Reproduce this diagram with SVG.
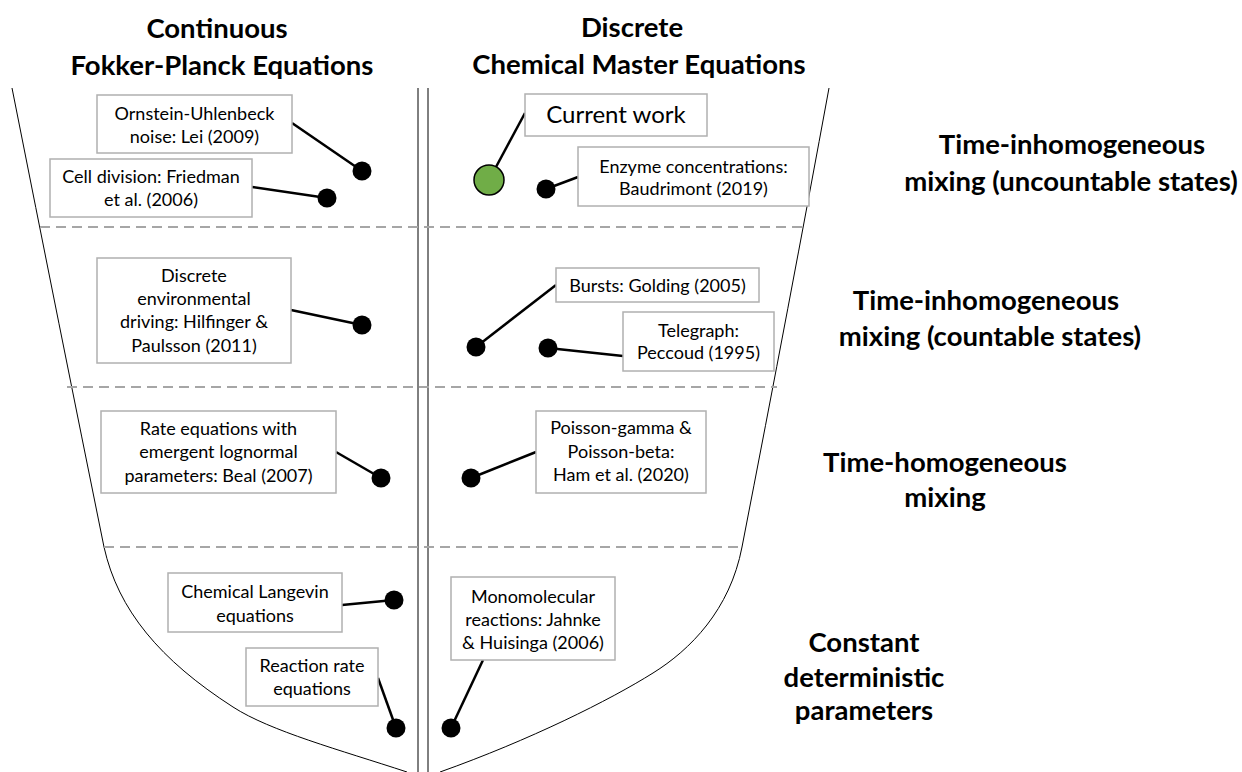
<svg xmlns="http://www.w3.org/2000/svg" width="1242" height="772" viewBox="0 0 1242 772">
<style>
.t{font-family:Lato,"Open Sans","Liberation Sans",sans-serif;fill:#000;text-anchor:middle}
.b{font-size:18px}
.h{font-size:27.5px;font-weight:bold}
.box{fill:#fff;stroke:#b0b0b0;stroke-width:1.5}
.dot{fill:#000}
.con{stroke:#000;stroke-width:2.5;fill:none}
.fun{stroke:#000;stroke-width:1;fill:none}
.sep{stroke:#a6a6a6;stroke-width:2;stroke-dasharray:10 6;fill:none}
</style>
<rect width="1242" height="772" fill="#fff"/>
<g id="funnel">
<path class="fun" d="M12,88 Q60,330 104,547 C118,610 160,660 233,707 C270,731 340,750 407,772"/>
<path class="fun" d="M829,88 Q790,300 742,547 C730,610 690,650 653,673 C610,700 530,740 440,772"/>
<line class="fun" x1="418" y1="88" x2="418" y2="772"/>
<line class="fun" x1="428" y1="88" x2="428" y2="772"/>
<line class="sep" x1="40" y1="227" x2="806" y2="227"/>
<line class="sep" x1="67" y1="387" x2="777" y2="387"/>
<line class="sep" x1="104" y1="547" x2="741" y2="547"/>
</g>
<g id="titles">
<text class="t h" x="217" y="38">Continuous</text>
<text class="t h" x="222" y="75">Fokker-Planck Equations</text>
<text class="t h" x="632" y="37">Discrete</text>
<text class="t h" x="639" y="74">Chemical Master Equations</text>
</g>
<g id="row-labels">
<text class="t h" x="1072" y="154">Time-inhomogeneous</text>
<text class="t h" x="1071" y="191">mixing (uncountable states)</text>
<text class="t h" x="986" y="310">Time-inhomogeneous</text>
<text class="t h" x="990" y="346">mixing (countable states)</text>
<text class="t h" x="945" y="472">Time-homogeneous</text>
<text class="t h" x="945" y="507">mixing</text>
<text class="t h" x="864" y="652">Constant</text>
<text class="t h" x="864" y="687">deterministic</text>
<text class="t h" x="864" y="720">parameters</text>
</g>
<g id="connectors">
<line class="con" x1="292" y1="123" x2="362" y2="171"/>
<line class="con" x1="252" y1="187" x2="327" y2="198"/>
<line class="con" x1="525" y1="113" x2="489" y2="180"/>
<line class="con" x1="578" y1="177" x2="546" y2="189"/>
<line class="con" x1="291" y1="310" x2="362" y2="325"/>
<line class="con" x1="336" y1="452" x2="381" y2="478"/>
<line class="con" x1="556" y1="285" x2="476" y2="347"/>
<line class="con" x1="623" y1="356" x2="548" y2="348"/>
<line class="con" x1="536" y1="452" x2="471" y2="478"/>
<line class="con" x1="342" y1="605" x2="394" y2="600"/>
<line class="con" x1="378" y1="678" x2="396" y2="728"/>
<line class="con" x1="483" y1="660" x2="451" y2="728"/>
</g>
<g id="n-ou">
<rect class="box" x="97" y="95" width="195" height="58"/>
<text class="t b" x="194.5" y="120">Ornstein-Uhlenbeck</text>
<text class="t b" x="194.5" y="143">noise: Lei (2009)</text>
<circle class="dot" cx="362" cy="171" r="9.5"/>
</g>
<g id="n-cell">
<rect class="box" x="50" y="159" width="202" height="58"/>
<text class="t b" x="151" y="183">Cell division: Friedman</text>
<text class="t b" x="151" y="206">et al. (2006)</text>
<circle class="dot" cx="327" cy="198" r="9.5"/>
</g>
<g id="n-current">
<rect class="box" x="525" y="94" width="182" height="42"/>
<text class="t" x="616" y="123" style="font-size:24px">Current work</text>
<circle cx="489" cy="180" r="15" fill="#70ad47" stroke="#000" stroke-width="1.5"/>
</g>
<g id="n-enzyme">
<rect class="box" x="578" y="147" width="231" height="59"/>
<text class="t b" x="693.5" y="173">Enzyme concentrations:</text>
<text class="t b" x="693.5" y="195">Baudrimont (2019)</text>
<circle class="dot" cx="546" cy="189" r="9.5"/>
</g>
<g id="n-discrete-env">
<rect class="box" x="97" y="258" width="194" height="105"/>
<text class="t b" x="194" y="282">Discrete</text>
<text class="t b" x="194" y="305">environmental</text>
<text class="t b" x="194" y="328">driving: Hilfinger &amp;</text>
<text class="t b" x="194" y="352">Paulsson (2011)</text>
<circle class="dot" cx="362" cy="325" r="9.5"/>
</g>
<g id="n-rate-lognormal">
<rect class="box" x="101" y="411" width="235" height="82"/>
<text class="t b" x="218.5" y="435">Rate equations with</text>
<text class="t b" x="218.5" y="458">emergent lognormal</text>
<text class="t b" x="218.5" y="482">parameters: Beal (2007)</text>
<circle class="dot" cx="381" cy="478" r="9.5"/>
</g>
<g id="n-bursts">
<rect class="box" x="556" y="268" width="203" height="34"/>
<text class="t b" x="657.5" y="292">Bursts: Golding (2005)</text>
<circle class="dot" cx="476" cy="347" r="9.5"/>
</g>
<g id="n-telegraph">
<rect class="box" x="623" y="312" width="151" height="59"/>
<text class="t b" x="698.5" y="337">Telegraph:</text>
<text class="t b" x="698.5" y="359">Peccoud (1995)</text>
<circle class="dot" cx="548" cy="348" r="9.5"/>
</g>
<g id="n-poisson">
<rect class="box" x="536" y="411" width="170" height="82"/>
<text class="t b" x="621" y="434">Poisson-gamma &amp;</text>
<text class="t b" x="621" y="458">Poisson-beta:</text>
<text class="t b" x="621" y="481">Ham et al. (2020)</text>
<circle class="dot" cx="471" cy="478" r="9.5"/>
</g>
<g id="n-langevin">
<rect class="box" x="168" y="573" width="174" height="59"/>
<text class="t b" x="255" y="598">Chemical Langevin</text>
<text class="t b" x="255" y="622">equations</text>
<circle class="dot" cx="394" cy="600" r="9.5"/>
</g>
<g id="n-rre">
<rect class="box" x="246" y="648" width="132" height="58"/>
<text class="t b" x="312" y="672">Reaction rate</text>
<text class="t b" x="312" y="695">equations</text>
<circle class="dot" cx="396" cy="728" r="9.5"/>
</g>
<g id="n-monomolecular">
<rect class="box" x="451" y="577" width="164" height="83"/>
<text class="t b" x="533" y="603">Monomolecular</text>
<text class="t b" x="533" y="626">reactions: Jahnke</text>
<text class="t b" x="533" y="649">&amp; Huisinga (2006)</text>
<circle class="dot" cx="451" cy="728" r="9.5"/>
</g>
</svg>
